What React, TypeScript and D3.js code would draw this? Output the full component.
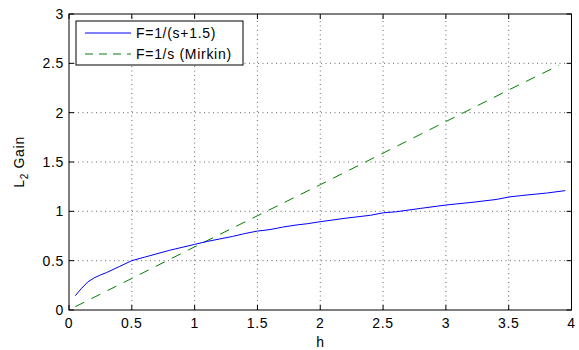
import React, { useEffect, useRef } from "react";
import * as d3 from "d3";

// sampling interval h and measured L2 gain
const hBlue = [0.05, 0.1, 0.15, 0.2, 0.25, 0.3, 0.4, 0.5, 0.6, 0.7, 0.8, 0.9, 1.0, 1.1, 1.2, 1.3, 1.4, 1.5, 1.6, 1.7, 1.8, 1.9, 2.0, 2.2, 2.4, 2.5, 2.6, 2.8, 3.0, 3.2, 3.4, 3.5, 3.6, 3.8, 3.95];
const gainBlue = [0.145, 0.22, 0.285, 0.325, 0.355, 0.38, 0.44, 0.5, 0.535, 0.57, 0.605, 0.635, 0.665, 0.695, 0.72, 0.745, 0.775, 0.8, 0.815, 0.84, 0.86, 0.875, 0.895, 0.93, 0.96, 0.985, 0.995, 1.03, 1.064, 1.09, 1.12, 1.145, 1.16, 1.185, 1.21];

const hGreen = [0.05, 0.5, 1.0, 1.5, 2.0, 2.5, 3.0, 3.5, 3.9];
const gainGreen = [0.033, 0.32, 0.64, 0.955, 1.27, 1.59, 1.91, 2.23, 2.48];

const xTicks = [0, 0.5, 1, 1.5, 2, 2.5, 3, 3.5, 4];
const yTicks = [0, 0.5, 1, 1.5, 2, 2.5, 3];

const seriesLabels = ["F=1/(s+1.5)", "F=1/s (Mirkin)"];

function App() {
  const svgRef = useRef<SVGSVGElement>(null);
  const width = 579;
  const height = 350;

  useEffect(() => {
    const svg = d3.select(svgRef.current);
    svg.selectAll("*").remove();

    const margin = { top: 14, right: 7.5, bottom: 40, left: 69 };
    const font = "Liberation Sans, Arial, Helvetica, sans-serif";
    const fs = "14px";
    const ls = "0.7px";

    const x = d3.scaleLinear().domain([0, 4]).range([margin.left, width - margin.right]);
    const y = d3.scaleLinear().domain([0, 3]).range([height - margin.bottom, margin.top]);

    svg.append("rect").attr("width", width).attr("height", height).attr("fill", "white");

    // grid
    const grid = svg.append("g").attr("stroke", "#000").attr("stroke-width", 0.6).attr("stroke-dasharray", "1,3.5");
    grid
      .selectAll(".gx")
      .data(xTicks.slice(1, -1))
      .join("line")
      .attr("x1", (d) => x(d))
      .attr("x2", (d) => x(d))
      .attr("y1", y(0))
      .attr("y2", y(3));
    grid
      .selectAll(".gy")
      .data(yTicks.slice(1, -1))
      .join("line")
      .attr("x1", x(0))
      .attr("x2", x(4))
      .attr("y1", (d) => y(d))
      .attr("y2", (d) => y(d));

    // ticks on all four sides, pointing in
    const tk = 5;
    const ticks = svg.append("g").attr("stroke", "#000").attr("stroke-width", 1);
    xTicks.forEach((t) => {
      ticks.append("line").attr("x1", x(t)).attr("x2", x(t)).attr("y1", y(0)).attr("y2", y(0) - tk);
      ticks.append("line").attr("x1", x(t)).attr("x2", x(t)).attr("y1", y(3)).attr("y2", y(3) + tk);
    });
    yTicks.forEach((t) => {
      ticks.append("line").attr("x1", x(0)).attr("x2", x(0) + tk).attr("y1", y(t)).attr("y2", y(t));
      ticks.append("line").attr("x1", x(4)).attr("x2", x(4) - tk).attr("y1", y(t)).attr("y2", y(t));
    });

    // tick labels
    svg
      .append("g")
      .selectAll("text")
      .data(xTicks)
      .join("text")
      .attr("x", (d) => x(d))
      .attr("y", y(0) + 18)
      .attr("text-anchor", "middle")
      .style("font-family", font)
      .style("font-size", fs)
      .style("letter-spacing", ls)
      .text((d) => String(d));
    svg
      .append("g")
      .selectAll("text")
      .data(yTicks)
      .join("text")
      .attr("x", x(0) - 5)
      .attr("y", (d) => y(d) + 5)
      .attr("text-anchor", "end")
      .style("font-family", font)
      .style("font-size", fs)
      .style("letter-spacing", ls)
      .text((d) => String(d));

    // axis labels
    svg
      .append("text")
      .attr("x", x(2))
      .attr("y", height - 3)
      .attr("text-anchor", "middle")
      .style("font-family", font)
      .style("font-size", fs)
      .text("h");

    const yl = svg
      .append("text")
      .attr("transform", `translate(24,${(y(0) + y(3)) / 2}) rotate(-90)`)
      .attr("text-anchor", "middle")
      .style("font-family", font)
      .style("font-size", fs)
      .style("letter-spacing", ls);
    yl.append("tspan").text("L");
    yl.append("tspan").attr("dy", 4).style("font-size", "10px").text("2");
    yl.append("tspan").attr("dy", -4).text(" Gain");

    // series
    const line = d3
      .line<[number, number]>()
      .x((d) => x(d[0]))
      .y((d) => y(d[1]));

    svg
      .append("path")
      .datum(hGreen.map((h, i) => [h, gainGreen[i]] as [number, number]))
      .attr("fill", "none")
      .attr("stroke", "#008000")
      .attr("stroke-width", 1)
      .attr("stroke-dasharray", "10,8")
      .attr("d", line);

    svg
      .append("path")
      .datum(hBlue.map((h, i) => [h, gainBlue[i]] as [number, number]))
      .attr("fill", "none")
      .attr("stroke", "#0000ff")
      .attr("stroke-width", 1)
      .attr("d", line);

    // axes box
    svg
      .append("rect")
      .attr("x", x(0))
      .attr("y", y(3))
      .attr("width", x(4) - x(0))
      .attr("height", y(0) - y(3))
      .attr("fill", "none")
      .attr("stroke", "#000")
      .attr("stroke-width", 1);

    // legend
    const legend = svg.append("g").attr("transform", "translate(76,21)");
    legend
      .append("rect")
      .attr("width", 167)
      .attr("height", 44)
      .attr("fill", "white")
      .attr("stroke", "#000")
      .attr("stroke-width", 1);
    const colors = ["#0000ff", "#008000"];
    const dashes = ["none", "8,6"];
    seriesLabels.forEach((label, i) => {
      const ly = 12 + i * 21;
      legend
        .append("line")
        .attr("x1", 9)
        .attr("x2", 55)
        .attr("y1", ly)
        .attr("y2", ly)
        .attr("stroke", colors[i])
        .attr("stroke-dasharray", dashes[i]);
      legend
        .append("text")
        .attr("x", 60)
        .attr("y", ly + 5)
        .style("font-family", font)
        .style("font-size", fs)
        .style("letter-spacing", ls)
        .text(label);
    });
  }, []);

  return (
    <svg
      ref={svgRef}
      width={width}
      height={height}
      style={{ position: "absolute", left: 0, top: 0 }}
    ></svg>
  );
}

export default App;
